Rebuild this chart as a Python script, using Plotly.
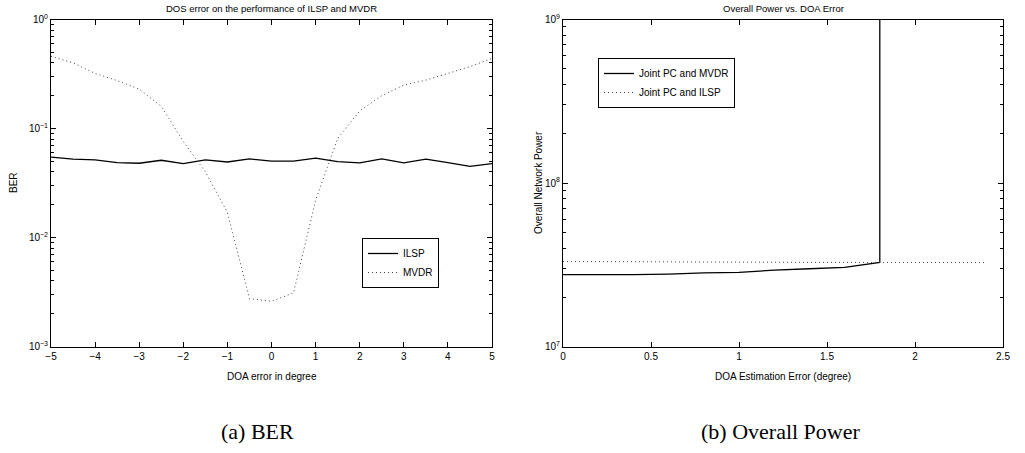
import plotly.graph_objects as go

# ---------------- data ----------------
doa_err = [-5, -4.5, -4, -3.5, -3, -2.5, -2, -1.5, -1, -0.5, 0, 0.5, 1, 1.5, 2, 2.5, 3, 3.5, 4, 4.5, 5]
ber_ilsp = [0.0546, 0.0523, 0.0515, 0.0487, 0.0480, 0.0511, 0.0476, 0.0515, 0.0493, 0.0526, 0.0501,
            0.0501, 0.0534, 0.0497, 0.0483, 0.0526, 0.0483, 0.0523, 0.0487, 0.0450, 0.0476]
ber_mvdr = [0.46, 0.40, 0.32, 0.275, 0.23, 0.16, 0.076, 0.040, 0.017, 0.00275, 0.0026,
            0.0031, 0.022, 0.081, 0.145, 0.20, 0.25, 0.278, 0.32, 0.37, 0.44]

est_err_mvdr = [0, 0.2, 0.4, 0.6, 0.8, 1.0, 1.2, 1.4, 1.6, 1.8, 1.8]
power_mvdr = [2.75e7, 2.74e7, 2.75e7, 2.77e7, 2.82e7, 2.84e7, 2.93e7, 2.99e7, 3.05e7, 3.27e7, 1e10]
est_err_ilsp = [0, 0.2, 0.4, 0.6, 0.8, 1.0, 1.2, 1.4, 1.6, 1.8, 2.0, 2.2, 2.4]
power_ilsp = [3.31e7, 3.30e7, 3.29e7, 3.28e7, 3.28e7, 3.27e7, 3.27e7, 3.27e7, 3.27e7, 3.27e7,
              3.26e7, 3.26e7, 3.26e7]

ber_x_ticks = [-5, -4, -3, -2, -1, 0, 1, 2, 3, 4, 5]
ber_x_ticktext = ["\u22125", "\u22124", "\u22123", "\u22122", "\u22121", "0", "1", "2", "3", "4", "5"]
ber_y_ticks = [1e-3, 1e-2, 1e-1, 1]
ber_y_ticktext = ["10<sup>\u22123</sup>", "10<sup>\u22122</sup>", "10<sup>\u22121</sup>", "10<sup>0</sup>"]
pow_x_ticks = [0, 0.5, 1, 1.5, 2, 2.5]
pow_x_ticktext = ["0", "0.5", "1", "1.5", "2", "2.5"]
pow_y_ticks = [1e7, 1e8, 1e9]
pow_y_ticktext = ["10<sup>7</sup>", "10<sup>8</sup>", "10<sup>9</sup>"]

# ---------------- layout helpers ----------------
W, H = 1025, 453
FONT = "Liberation Sans, Arial, sans-serif"


def px_x(p):
    return p / W


def px_y(p):
    return 1 - p / H


L_X0, L_X1 = 51, 492
R_X0, R_X1 = 563, 1003
Y_TOP, Y_BOT = 19.5, 346.5

fig = go.Figure()

fig.add_trace(go.Scatter(x=doa_err, y=ber_ilsp, mode="lines", name="ILSP",
                         line=dict(color="black", width=1.3), xaxis="x", yaxis="y",
                         legend="legend"))
fig.add_trace(go.Scatter(x=doa_err, y=ber_mvdr, mode="lines", name="MVDR",
                         line=dict(color="#444444", width=1, dash="1px,3px"), xaxis="x", yaxis="y",
                         legend="legend"))
fig.add_trace(go.Scatter(x=est_err_mvdr, y=power_mvdr, mode="lines", name="Joint PC and MVDR",
                         line=dict(color="black", width=1.3), xaxis="x2", yaxis="y2",
                         legend="legend2"))
fig.add_trace(go.Scatter(x=est_err_ilsp, y=power_ilsp, mode="lines", name="Joint PC and ILSP",
                         line=dict(color="#444444", width=1, dash="1px,3px"), xaxis="x2", yaxis="y2",
                         legend="legend2"))

axis_common = dict(showline=True, linecolor="black", linewidth=1, mirror="ticks",
                   ticks="inside", ticklen=5, tickcolor="black", tickwidth=1,
                   showgrid=False, zeroline=False, automargin=False,
                   tickfont=dict(family=FONT, size=10, color="black"))

minor_log = dict(ticks="inside", ticklen=3, tickcolor="black", dtick="D1", showgrid=False)

fig.update_layout(
    template="none",
    width=W, height=H,
    margin=dict(l=0, r=0, t=0, b=0, pad=0, autoexpand=False),
    paper_bgcolor="white", plot_bgcolor="white",
    font=dict(family=FONT, size=10, color="black"),
    xaxis=dict(domain=[px_x(L_X0), px_x(L_X1)], range=[-5, 5], anchor="y",
               tickmode="array", tickvals=ber_x_ticks, ticktext=ber_x_ticktext, **axis_common),
    yaxis=dict(domain=[px_y(Y_BOT), px_y(Y_TOP)], type="log", range=[-3, 0], anchor="x",
               tickmode="array", tickvals=ber_y_ticks, ticktext=ber_y_ticktext,
               minor=minor_log, **axis_common),
    xaxis2=dict(domain=[px_x(R_X0), px_x(R_X1)], range=[0, 2.5], anchor="y2",
                tickmode="array", tickvals=pow_x_ticks, ticktext=pow_x_ticktext, **axis_common),
    yaxis2=dict(domain=[px_y(Y_BOT), px_y(Y_TOP)], type="log", range=[7, 9], anchor="x2",
                tickmode="array", tickvals=pow_y_ticks, ticktext=pow_y_ticktext,
                minor=minor_log, **axis_common),
    legend=dict(x=px_x(362), y=px_y(238), xanchor="left", yanchor="top",
                bordercolor="black", borderwidth=1, bgcolor="white",
                font=dict(family=FONT, size=10, color="black"), tracegroupgap=0),
    legend2=dict(x=px_x(598), y=px_y(58), xanchor="left", yanchor="top",
                 bordercolor="black", borderwidth=1, bgcolor="white",
                 font=dict(family=FONT, size=10, color="black"), tracegroupgap=0),
)


def label(text, x, y, size=10, family=FONT, angle=0):
    return dict(text=text, x=px_x(x), y=px_y(y), xref="paper", yref="paper",
                xanchor="center", yanchor="middle", showarrow=False, textangle=angle,
                font=dict(family=family, size=size, color="black"))


ann = [
    label("DOS error on the performance of ILSP and MVDR", (L_X0 + L_X1) / 2, 9, size=9.5),
    label("Overall Power vs. DOA Error", (R_X0 + R_X1) / 2, 9, size=9.5),
    label("DOA error in degree", (L_X0 + L_X1) / 2, 376),
    label("DOA Estimation Error (degree)", (R_X0 + R_X1) / 2, 376),
    label("BER", 13, (Y_TOP + Y_BOT) / 2, angle=-90),
    label("Overall Network Power", 538, (Y_TOP + Y_BOT) / 2, angle=-90),
    label("(a) BER", 257, 431, size=22, family="Liberation Serif, serif"),
    label("(b) Overall Power", 781, 431, size=22, family="Liberation Serif, serif"),
]
fig.update_layout(annotations=ann)

# remove the default 8px page margin so the figure sits at the window's top-left corner
fig.write_html("out.html",
               config={"displayModeBar": False},
               post_script="document.body.style.margin='0';document.body.style.overflow='hidden';")
